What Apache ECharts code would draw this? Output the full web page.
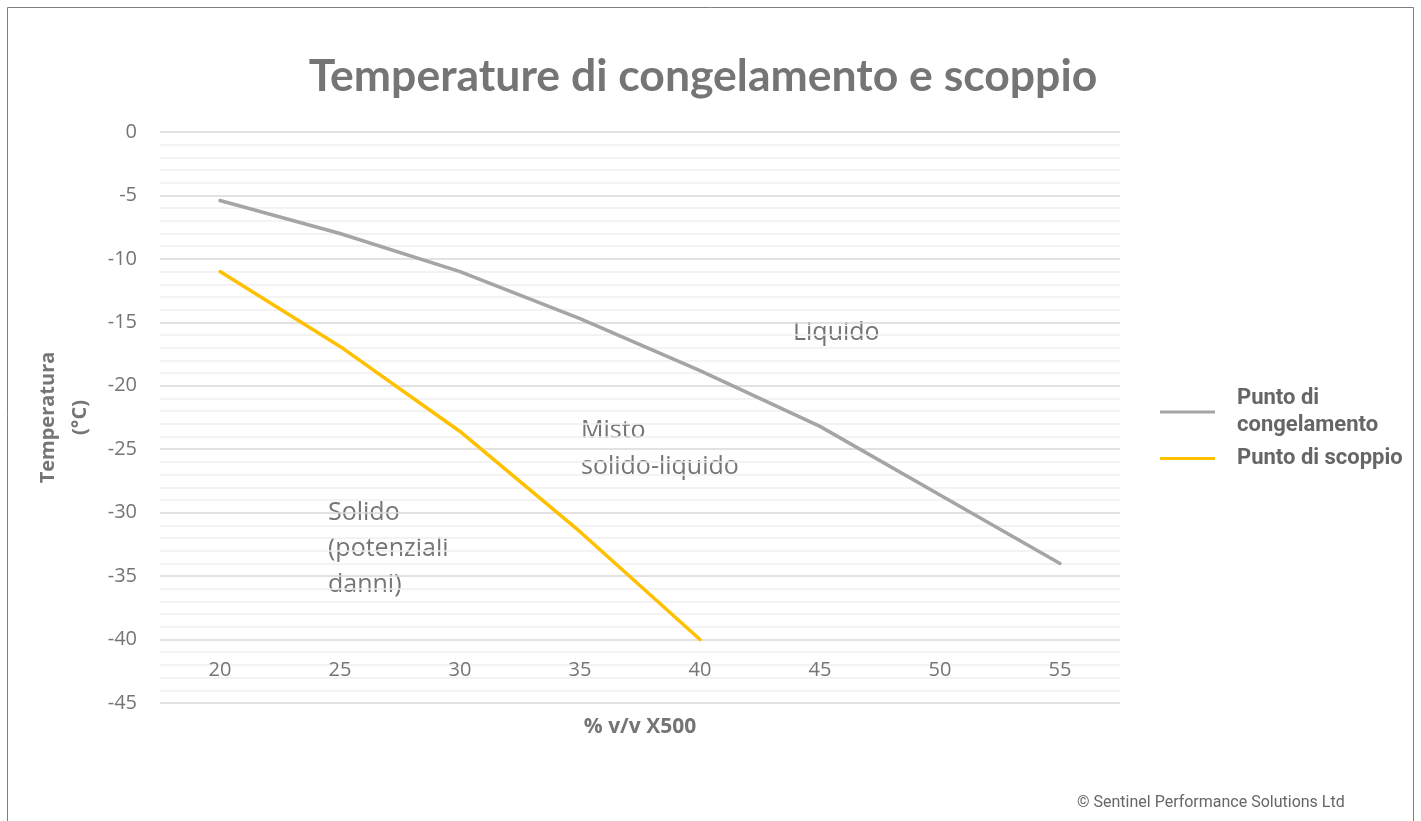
<!DOCTYPE html>
<html>
<head>
<meta charset="utf-8">
<script src="https://cdn.jsdelivr.net/npm/echarts@6/dist/echarts.min.js"></script>
<style>
html,body{margin:0;padding:0;background:#fff;}
#chart{width:1421px;height:821px;}
</style>
</head>
<body>
<div id="chart"></div>
<script>
// Data
const categories = ['20', '25', '30', '35', '40', '45', '50', '55'];
const congelamento = [-5.4, -8.0, -11.0, -14.7, -18.8, -23.2, -28.6, -34.0];
const scoppio = [-11.0, -16.9, -23.6, -31.5, -40.0];
const seriesNames = ['Punto di congelamento', 'Punto di scoppio'];

const textColor = '#757575';
const chart = echarts.init(document.getElementById('chart'));

chart.setOption({
  backgroundColor: '#ffffff',
  animation: false,
  title: {
    text: 'Temperature di congelamento e scoppio',
    left: 698,
    textAlign: 'center',
    top: 49,
    textStyle: { fontFamily: 'Lato', fontWeight: 'bold', fontSize: 44.5, color: textColor }
  },
  grid: { left: 160, right: 301, top: 132, bottom: 118 },
  legend: [
    {
      data: [seriesNames[0]],
      orient: 'vertical',
      left: 1160, top: 370, padding: 0,
      itemWidth: 55, itemHeight: 3, icon: 'rect',
      formatter: () => 'Punto di\ncongelamento',
      textStyle: { fontFamily: 'Roboto', fontWeight: 'bold', fontSize: 22, color: '#666666', lineHeight: 27, padding: [0, 0, 30, 17] }
    },
    {
      data: [seriesNames[1]],
      orient: 'vertical',
      left: 1160, top: 445, padding: 0,
      itemWidth: 55, itemHeight: 3, icon: 'rect',
      textStyle: { fontFamily: 'Roboto', fontWeight: 'bold', fontSize: 22, color: '#666666', lineHeight: 27, padding: [0, 0, 0, 17] }
    }
  ],
  xAxis: {
    type: 'category',
    data: categories,
    boundaryGap: true,
    name: '% v/v X500',
    nameLocation: 'middle',
    nameGap: 14,
    nameTextStyle: { fontFamily: 'Open Sans', fontWeight: 'bold', fontSize: 21, color: textColor, verticalAlign: 'top' },
    axisLine: { show: false, onZero: false },
    axisTick: { show: false },
    axisLabel: { margin: -43, fontFamily: 'Open Sans', fontSize: 20, color: textColor },
    splitLine: { show: false }
  },
  yAxis: {
    type: 'value',
    min: -45, max: 0, interval: 5,
    name: 'Temperatura\n(°C)',
    nameLocation: 'middle',
    nameRotate: 90,
    nameGap: 64,
    nameTextStyle: { fontFamily: 'Open Sans', fontWeight: 'bold', fontSize: 20, color: textColor, lineHeight: 32 },
    axisLine: { show: false },
    axisTick: { show: false },
    axisLabel: { margin: 23, fontFamily: 'Open Sans', fontSize: 20, color: textColor },
    splitLine: { show: true, lineStyle: { color: '#d9d9d9', width: 1.5 } },
    minorTick: { show: false, splitNumber: 5 },
    minorSplitLine: { show: true, lineStyle: { color: '#f0f0f0', width: 1.5 } }
  },
  series: [
    {
      name: seriesNames[0], type: 'line', data: congelamento,
      symbol: 'none', color: '#A5A5A5',
      lineStyle: { width: 3.5, color: '#A5A5A5', cap: 'round' }
    },
    {
      name: seriesNames[1], type: 'line', data: scoppio,
      symbol: 'none', color: '#FFC000',
      lineStyle: { width: 3.5, color: '#FFC000', cap: 'round' }
    }
  ],
  graphic: [
    { type: 'rect', shape: { x: 7.5, y: 7.5, width: 1406, height: 840 }, style: { fill: 'none', stroke: '#7f7f7f', lineWidth: 1 }, silent: true },
    { type: 'text', left: 793, top: 320, style: { text: 'Liquido', font: '25px "Open Sans"', fill: textColor } },
    { type: 'text', left: 581, top: 413, style: { text: 'Misto\nsolido-liquido', font: '25px "Open Sans"', fill: textColor, lineHeight: 36 } },
    { type: 'text', left: 328, top: 495, style: { text: 'Solido\n(potenziali\ndanni)', font: '25px "Open Sans"', fill: textColor, lineHeight: 36 } },
    { type: 'text', left: 1077, top: 795, style: { text: '© Sentinel Performance Solutions Ltd', font: '16px Roboto', fill: '#666666' } }
  ]
});
</script>
</body>
</html>
